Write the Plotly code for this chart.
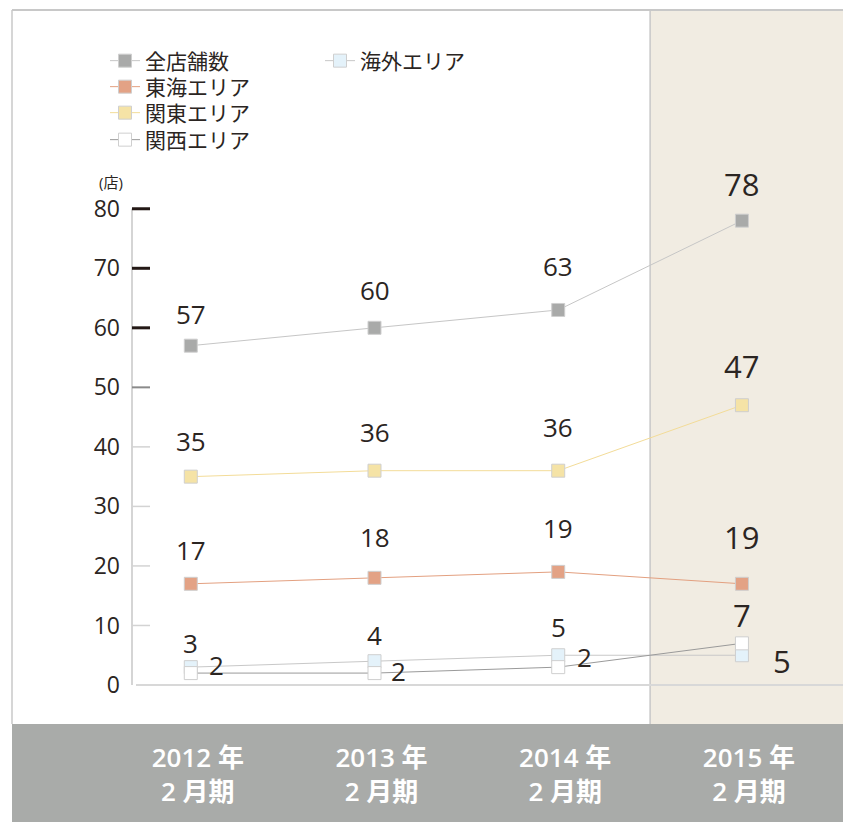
import plotly.graph_objects as go

# ---------------- data ----------------
categories = ["2012 年<br>2 月期", "2013 年<br>2 月期", "2014 年<br>2 月期", "2015 年<br>2 月期"]
x_idx = [0, 1, 2, 3]

total = [57, 60, 63, 78]
tokai = [17, 18, 19, 17]
kanto = [35, 36, 36, 47]
kansai = [2, 2, 3, 7]
kaigai = [3, 4, 5, 5]

total_labels = ["57", "60", "63", "78"]
tokai_labels = ["17", "18", "19", "19"]
kanto_labels = ["35", "36", "36", "47"]
kansai_labels = ["2", "2", "2", "7"]
kaigai_labels = ["3", "4", "5", "5"]

y_ticks = [0, 10, 20, 30, 40, 50, 60, 70, 80]

# ---------------- style ----------------
FONT = "Open Sans, Noto Sans CJK JP, sans-serif"
TXT = "#2b2522"
W, H = 843, 822
ML, MR, MT, MB = 132, 0, 10, 98
PW = W - ML - MR
PH = H - MT - MB

def px_x(p):
    return (p - ML) / PW

def px_y(p):
    return (H - MB - p) / PH

fig = go.Figure()

# name, values, marker colour, line colour, legend id, legend pixel pos (x, y)
series = [
    ("全店舗数", total, "#a9aaa9", "#c6c6c6", "legend", (105, 61)),
    ("東海エリア", tokai, "#e3a285", "#e3a080", "legend2", (105, 87)),
    ("関東エリア", kanto, "#f5e3a6", "#f3dc98", "legend3", (105, 113)),
    ("海外エリア", kaigai, "#e4f2fa", "#c8c8c8", "legend5", (320, 61)),
    ("関西エリア", kansai, "#ffffff", "#9a9a9a", "legend4", (105, 140)),
]
legends = {}
for name, vals, mcol, lcol, lg, (lx, ly) in series:
    fig.add_trace(go.Scatter(
        x=x_idx, y=vals, name=name, mode="lines+markers",
        line=dict(color=lcol, width=1),
        marker=dict(symbol="square", size=13, color=mcol,
                    line=dict(color="#cfcfcf", width=1)),
        legend=lg, hoverinfo="skip",
    ))
    legends[lg] = dict(x=px_x(lx), y=px_y(ly), xanchor="left", yanchor="middle",
                       bgcolor="rgba(0,0,0,0)", borderwidth=0,
                       font=dict(family=FONT, size=21, color=TXT), itemwidth=30)

# ---------------- data labels ----------------
ann = []
def lab(xs, ys, texts, shifts, xshifts=None):
    for i, (xv, yv, t) in enumerate(zip(xs, ys, texts)):
        ann.append(dict(
            x=xv, y=yv, xref="x", yref="y", text=t, showarrow=False,
            yshift=shifts[i], xshift=(xshifts[i] if xshifts else 0),
            font=dict(family=FONT, size=31 if i == 3 else 26, color=TXT),
        ))

lab(x_idx, total, total_labels, [32, 38, 44, 37])
lab(x_idx, kanto, kanto_labels, [36, 39, 44, 39])
lab(x_idx, tokai, tokai_labels, [34, 41, 44, 47])
lab(x_idx, kaigai, kaigai_labels, [24, 26, 28, -6], [0, 0, 0, 40])
lab(x_idx, kansai, kansai_labels, [8, 2, 10, 28], [26, 24, 26, 0])

ann.append(dict(x=px_x(111), y=px_y(182), xref="paper", yref="paper",
                xanchor="center", yanchor="middle",
                text="(店)", showarrow=False,
                font=dict(family=FONT, size=15, color=TXT)))

# ---------------- shapes ----------------
shapes = []
shapes.append(dict(type="rect", xref="x", yref="paper", x0=2.5, x1=3.6, y0=0, y1=1,
                   fillcolor="#f1ece2", line=dict(width=0), layer="below"))
shapes.append(dict(type="line", xref="x", yref="paper", x0=2.5, x1=2.5, y0=0, y1=1,
                   line=dict(color="#c8c8c8", width=1.5), layer="below"))
shapes.append(dict(type="rect", xref="paper", yref="paper", x0=px_x(12), x1=1.01,
                   y0=-MB / PH, y1=0, fillcolor="#a9aba9", line=dict(width=0), layer="below"))
shapes.append(dict(type="line", xref="paper", yref="paper", x0=px_x(12), x1=1.01,
                   y0=1, y1=1, line=dict(color="#c8c8c8", width=2), layer="below"))
shapes.append(dict(type="line", xref="paper", yref="paper", x0=px_x(12), x1=px_x(12),
                   y0=0, y1=1, line=dict(color="#c8c8c8", width=1.5), layer="below"))
shapes.append(dict(type="line", xref="paper", yref="y", x0=0, x1=0, y0=0, y1=y_ticks[-1],
                   line=dict(color="#d5d5d5", width=2), layer="below"))
shapes.append(dict(type="line", xref="paper", yref="y", x0=4 / PW, x1=1.01, y0=0, y1=0,
                   line=dict(color="#d8d8d8", width=2), layer="below"))
for v in y_ticks[1:]:
    if v >= 60:
        col, wd = "#231815", 3
    elif v == 50:
        col, wd = "#8a8a8a", 2
    else:
        col, wd = "#d3d3d3", 1.5
    shapes.append(dict(type="line", xref="paper", yref="y", x0=0, x1=18 / PW, y0=v, y1=v,
                       line=dict(color=col, width=wd), layer="below"))

fig.update_layout(
    width=W, height=H,
    margin=dict(l=ML, r=MR, t=MT, b=MB, pad=0),
    paper_bgcolor="white", plot_bgcolor="rgba(0,0,0,0)",
    font=dict(family=FONT, color=TXT),
    shapes=shapes, annotations=ann,
    xaxis=dict(range=[-0.32, 3.55], tickvals=x_idx, ticktext=categories,
               showgrid=False, zeroline=False, showline=False, ticks="",
               tickfont=dict(family=FONT, size=26, color="white", weight=600),
               ticklabelstandoff=16, ticklabelshift=7, fixedrange=True),
    yaxis=dict(range=[-(H - MB - 685) / 5.953, (685 - MT) / 5.953],
               tickvals=y_ticks, showgrid=False, zeroline=False, showline=False, ticks="",
               tickfont=dict(family=FONT, size=23, color=TXT),
               ticklabelstandoff=11, fixedrange=True),
    showlegend=True,
    **legends,
)

fig.write_html("out.html")
